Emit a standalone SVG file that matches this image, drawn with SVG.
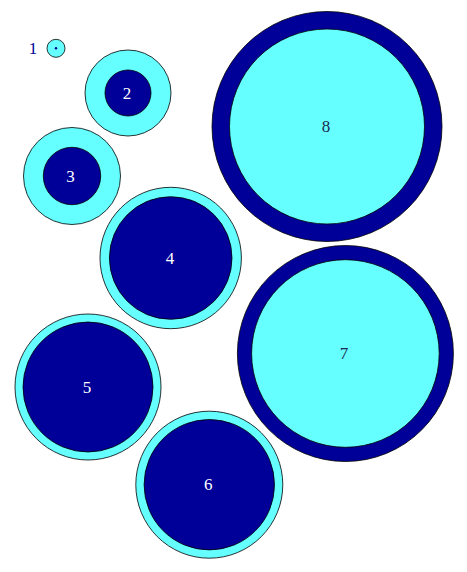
<svg xmlns="http://www.w3.org/2000/svg" width="467" height="572" viewBox="0 0 467 572">
<style>
.cy{fill:#66ffff;stroke:#000;stroke-width:0.8}
.nv{fill:#000099;stroke:#000;stroke-width:0.8}
text{font-family:"Liberation Serif","Times New Roman",serif;font-size:17px;text-anchor:middle}
.w{fill:#fff}
.d{fill:#1a2a55}
.n{fill:#000099}
</style>
<rect width="467" height="572" fill="#fff"/>
<g id="connectors"/>
<g id="node1">
<circle class="cy" cx="56" cy="48.3" r="9"/>
<circle cx="56" cy="48.3" r="1.2" fill="#000099"/>
<text class="n" x="33" y="53.5">1</text>
</g>
<g id="node2">
<circle class="cy" cx="128" cy="93" r="43"/>
<circle class="nv" cx="128" cy="93" r="23"/>
<text class="w" x="127" y="98.5">2</text>
</g>
<g id="node3">
<circle class="cy" cx="72" cy="176" r="48.5"/>
<circle class="nv" cx="72" cy="176" r="28.7"/>
<text class="w" x="70.5" y="181.5">3</text>
</g>
<g id="node4">
<circle class="cy" cx="170.7" cy="258" r="70.7"/>
<circle class="nv" cx="170.7" cy="258" r="61.3"/>
<text class="w" x="170" y="263.5">4</text>
</g>
<g id="node5">
<circle class="cy" cx="88" cy="387" r="73"/>
<circle class="nv" cx="88" cy="387" r="65"/>
<text class="w" x="87" y="392.5">5</text>
</g>
<g id="node6">
<circle class="cy" cx="209.3" cy="484.7" r="73.5"/>
<circle class="nv" cx="209.3" cy="484.7" r="65.2"/>
<text class="w" x="208.3" y="490.2">6</text>
</g>
<g id="node7">
<circle class="nv" cx="345.4" cy="353.5" r="108"/>
<circle class="cy" cx="345.4" cy="353.5" r="93.8"/>
<text class="d" x="344" y="359">7</text>
</g>
<g id="node8">
<circle class="nv" cx="327" cy="126.5" r="115"/>
<circle class="cy" cx="327" cy="126.5" r="97.5"/>
<text class="d" x="326" y="132">8</text>
</g>
</svg>
